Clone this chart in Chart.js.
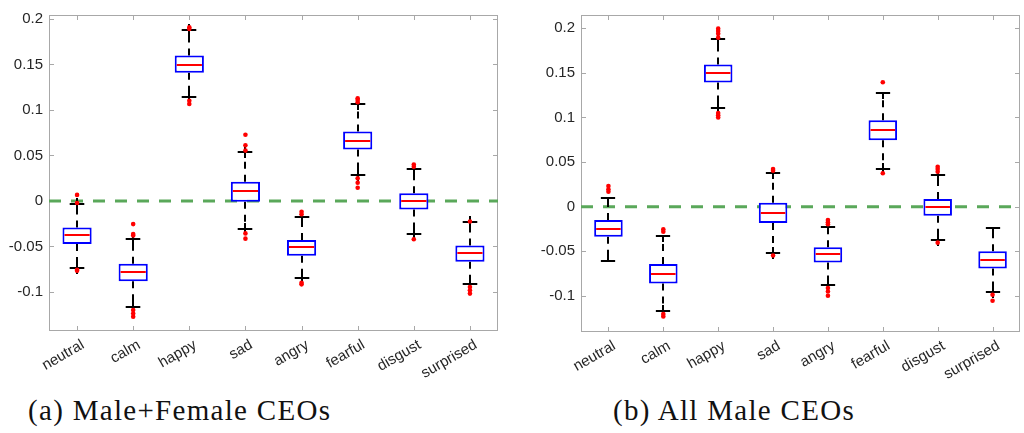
<!DOCTYPE html>
<html>
<head>
<meta charset="utf-8">
<script src="https://cdn.jsdelivr.net/npm/chart.js@4.4.1/dist/chart.umd.min.js"></script>
<style>
  body { margin: 0; background: #fff; width: 1024px; height: 433px; overflow: hidden; position: relative; }
  .panel { position: absolute; top: 0; width: 512px; height: 385px; }
  .caption { position: absolute; font-family: "Liberation Serif", serif; font-size: 29px; line-height: 29px;
             color: #111; letter-spacing: 1.3px; white-space: nowrap; }
</style>
</head>
<body>
<div class="panel" style="left:0"><canvas id="chartA"></canvas></div>
<div class="panel" style="left:512px"><canvas id="chartB"></canvas></div>
<div class="caption" style="left:28px;top:396px">(a) Male+Female CEOs</div>
<div class="caption" style="left:613px;top:396px">(b) All Male CEOs</div>

<script>
const emotions = ["neutral", "calm", "happy", "sad", "angry", "fearful", "disgust", "surprised"];
const yTickValues = [-0.1, -0.05, 0, 0.05, 0.1, 0.15, 0.2];
const yTickLabels = ["-0.1", "-0.05", "0", "0.05", "0.1", "0.15", "0.2"];

// (a) Male+Female CEOs
const aQ1 = [-0.0473, -0.0884, 0.1408, -0.0008, -0.0604, 0.0564, -0.0095, -0.0669];
const aQ3 = [-0.0291, -0.0691, 0.1600, 0.0211, -0.0429, 0.0764, 0.0084, -0.0491];
const aMedian = [-0.0375, -0.0782, 0.1499, 0.0106, -0.0510, 0.0658, 0.0000, -0.0575];
const aWhiskerLow = [-0.0735, -0.1165, 0.1139, -0.0313, -0.0844, 0.0284, -0.0364, -0.0909];
const aWhiskerHigh = [-0.0036, -0.0418, 0.1874, 0.0538, -0.0175, 0.1062, 0.0346, -0.0237];
const aOutliers = [
  [0.0066, -0.0022, -0.0757, -0.0768],
  [-0.0255, -0.0364, -0.0380, -0.1200, -0.1237, -0.1274],
  [0.1910, 0.1890, 0.1100, 0.1066],
  [0.0728, 0.0611, 0.0553, -0.0357, -0.0415],
  [-0.0120, -0.0146, -0.0899, -0.0917],
  [0.1128, 0.1110, 0.1084, 0.0248, 0.0200, 0.0145],
  [0.0400, 0.0375, -0.0422],
  [-0.0226, -0.0946, -0.0983, -0.1019]
];
const aHighCross = [1, 1, 1, 1, 1, 1, 1, 1];
const aLowCross = [1, 1, 1, 1, 1, 1, 1, 1];

// (b) All Male CEOs
const bQ1 = [-0.0336, -0.0861, 0.1391, -0.0182, -0.0626, 0.0746, -0.0101, -0.0694];
const bQ3 = [-0.0149, -0.0644, 0.1593, 0.0045, -0.0454, 0.0970, 0.0086, -0.0499];
const bMedian = [-0.0246, -0.0756, 0.1496, -0.0067, -0.0532, 0.0858, 0.0000, -0.0593];
const bWhiskerLow = [-0.0604, -0.1167, 0.1107, -0.0521, -0.0879, 0.0418, -0.0376, -0.0954];
const bWhiskerHigh = [0.0101, -0.0328, 0.1876, 0.0374, -0.0224, 0.1280, 0.0355, -0.0235];
const bOutliers = [
  [0.0232, 0.0195, 0.0168],
  [-0.0253, -0.0280, -0.1204, -0.1230],
  [0.1996, 0.1969, 0.1940, 0.1895, 0.1051, 0.1026, 0.1000],
  [0.0422, 0.0403, -0.0548],
  [-0.0149, -0.0175, -0.0197, -0.0913, -0.0951, -0.0999],
  [0.1395, 0.0374],
  [0.0447, 0.0422, 0.0392, -0.0403],
  [-0.0988, -0.1055]
];
const bHighCross = [0, 0, 1, 0, 1, 0, 1, 0];
const bLowCross = [0, 1, 1, 1, 1, 1, 1, 1];

const AXIS_GRAY = "#a8a8a8";
const TEXT_COLOR = "#262626";

// whiskers, caps, medians, frame and the zero reference line
const boxParts = {
  id: "boxParts",
  beforeDatasetsDraw(chart, args, opts) {
    const ctx = chart.ctx;
    const area = chart.chartArea;
    const xs = chart.scales.x, ys = chart.scales.y;
    ctx.save();

    // frame with inward ticks
    ctx.strokeStyle = AXIS_GRAY;
    ctx.lineWidth = 1;
    ctx.strokeRect(area.left + 0.5, area.top + 0.5, area.right - area.left - 1, area.bottom - area.top - 1);
    ctx.beginPath();
    for (const v of yTickValues) {
      const y = Math.round(ys.getPixelForValue(v)) + 0.5;
      ctx.moveTo(area.left, y); ctx.lineTo(area.left + 5, y);
      ctx.moveTo(area.right, y); ctx.lineTo(area.right - 5, y);
    }
    emotions.forEach((e, i) => {
      const x = Math.round(xs.getPixelForValue(i)) + 0.5;
      ctx.moveTo(x, area.top); ctx.lineTo(x, area.top + 5);
      ctx.moveTo(x, area.bottom); ctx.lineTo(x, area.bottom - 5);
    });
    ctx.stroke();

    // green dashed zero line
    const y0 = ys.getPixelForValue(0);
    ctx.strokeStyle = "#5aa85a";
    ctx.lineWidth = 3;
    ctx.setLineDash([12, 10]);
    ctx.beginPath();
    ctx.moveTo(area.left, y0); ctx.lineTo(area.right, y0);
    ctx.stroke();

    // whiskers and caps
    const bars = chart.getDatasetMeta(0).data;
    ctx.strokeStyle = "#000";
    ctx.lineWidth = 2;
    bars.forEach((bar, i) => {
      const x = Math.round(bar.x);
      const half = bar.width / 4;
      const yTop = ys.getPixelForValue(opts.q3[i]);
      const yBot = ys.getPixelForValue(opts.q1[i]);
      const yHi = Math.round(ys.getPixelForValue(opts.hi[i]));
      const yLo = Math.round(ys.getPixelForValue(opts.lo[i]));
      ctx.setLineDash([7, 6]);
      ctx.beginPath();
      ctx.moveTo(x, yTop); ctx.lineTo(x, yHi + 6);
      ctx.moveTo(x, yBot); ctx.lineTo(x, yLo - 6);
      ctx.stroke();
      ctx.setLineDash([]);
      ctx.beginPath();
      ctx.moveTo(x - half, yHi); ctx.lineTo(x + half, yHi);
      ctx.moveTo(x - half, yLo); ctx.lineTo(x + half, yLo);
      ctx.moveTo(x, yHi + 6); ctx.lineTo(x, yHi - (opts.hiCross[i] ? 6 : 0));
      ctx.moveTo(x, yLo - 6); ctx.lineTo(x, yLo + (opts.loCross[i] ? 6 : 0));
      ctx.stroke();
    });
    ctx.restore();
  },
  afterDatasetDraw(chart, args, opts) {
    if (args.index !== 0) return;
    const ctx = chart.ctx;
    const ys = chart.scales.y;
    ctx.save();
    ctx.strokeStyle = "#ff0000";
    ctx.lineWidth = 2;
    ctx.beginPath();
    chart.getDatasetMeta(0).data.forEach((bar, i) => {
      const y = Math.round(ys.getPixelForValue(opts.median[i]));
      ctx.moveTo(bar.x - bar.width / 2 + 2, y);
      ctx.lineTo(bar.x + bar.width / 2 - 2, y);
    });
    ctx.stroke();
    ctx.restore();
  }
};

function makePanel(id, s) {
  const outlierPoints = [];
  s.outliers.forEach((list, i) => {
    list.forEach(v => outlierPoints.push({ x: emotions[i], y: v }));
  });

  return new Chart(document.getElementById(id), {
    type: "bar",
    data: {
      labels: emotions,
      datasets: [
        {
          label: "box",
          data: s.q1.map((v, i) => [v, s.q3[i]]),
          backgroundColor: "#ffffff",
          borderColor: "#0000ff",
          borderWidth: 2,
          borderSkipped: false,
          barPercentage: 0.52,
          categoryPercentage: 1.0,
          order: 2
        },
        {
          type: "line",
          label: "outliers",
          data: outlierPoints,
          showLine: false,
          pointRadius: 2.3,
          pointBorderWidth: 0,
          pointBackgroundColor: "#ff0000",
          pointBorderColor: "#ff0000",
          order: 1
        }
      ]
    },
    options: {
      responsive: false,
      animation: false,
      layout: { padding: { left: 0, right: s.padRight, top: s.padTop, bottom: 0 } },
      plugins: {
        legend: { display: false },
        tooltip: { enabled: false },
        boxParts: {
          q1: s.q1, q3: s.q3, median: s.median, lo: s.lo, hi: s.hi,
          hiCross: s.hiCross, loCross: s.loCross
        }
      },
      scales: {
        x: {
          offset: true,
          grid: { display: false, drawTicks: false, offset: true },
          border: { display: false },
          ticks: {
            autoSkip: false, minRotation: 30, maxRotation: 30, padding: 5, labelOffset: 6,
            color: TEXT_COLOR, font: { family: "Liberation Sans", size: 15 }
          },
          afterFit: sc => { sc.height = s.xAxisHeight; }
        },
        y: {
          min: s.yMin, max: s.yMax,
          grid: { display: false, drawTicks: false },
          border: { display: false },
          afterBuildTicks: sc => { sc.ticks = yTickValues.map(v => ({ value: v })); },
          afterFit: sc => { sc.width = s.yAxisWidth; },
          ticks: {
            padding: 6,
            color: TEXT_COLOR, font: { family: "Liberation Sans", size: 15 },
            callback: (v, i) => yTickLabels[i]
          }
        }
      }
    },
    plugins: [boxParts]
  });
}

function sizeCanvas(id) {
  const c = document.getElementById(id);
  c.width = 512; c.height = 385;
  c.style.width = "512px"; c.style.height = "385px";
}
sizeCanvas("chartA");
sizeCanvas("chartB");

makePanel("chartA", {
  q1: aQ1, q3: aQ3, median: aMedian, lo: aWhiskerLow, hi: aWhiskerHigh,
  outliers: aOutliers, hiCross: aHighCross, loCross: aLowCross,
  yMin: -0.143, yMax: 0.2044, padTop: 12, padRight: 14, yAxisWidth: 49, xAxisHeight: 54
});
makePanel("chartB", {
  q1: bQ1, q3: bQ3, median: bMedian, lo: bWhiskerLow, hi: bWhiskerHigh,
  outliers: bOutliers, hiCross: bHighCross, loCross: bLowCross,
  yMin: -0.1405, yMax: 0.2149, padTop: 15, padRight: 0, yAxisWidth: 69, xAxisHeight: 53
});
</script>
</body>
</html>
